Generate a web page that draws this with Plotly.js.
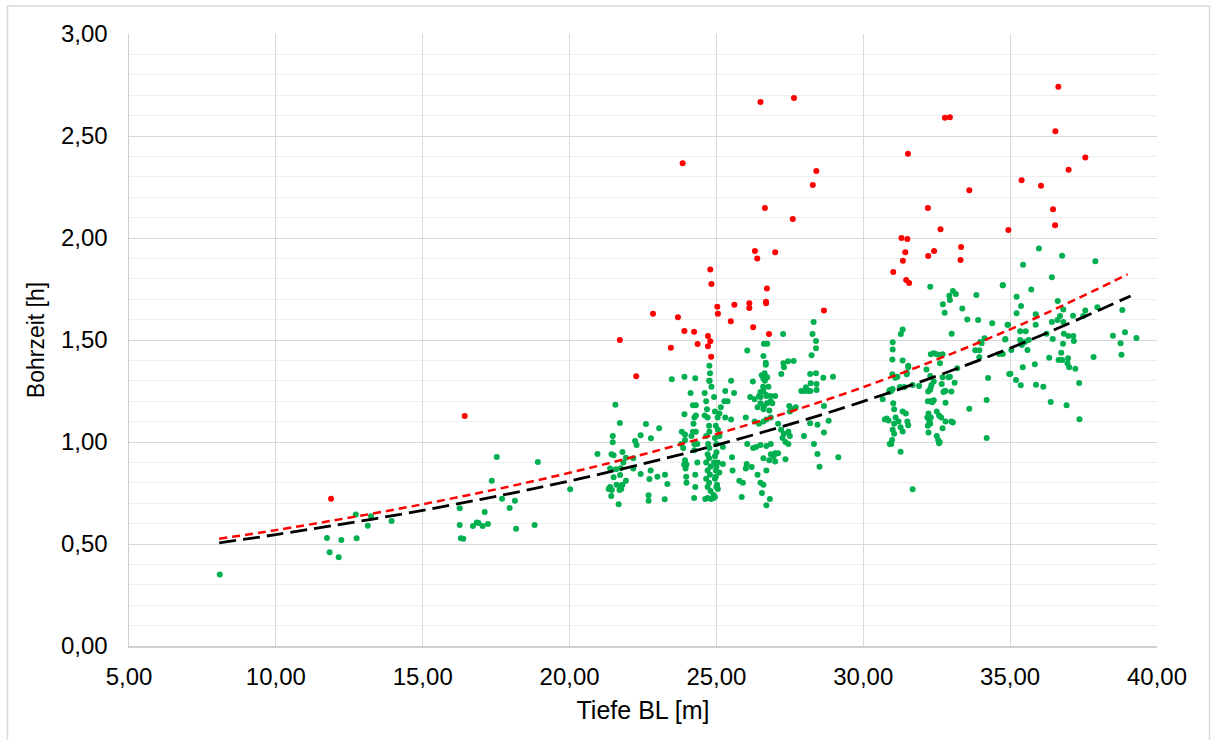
<!DOCTYPE html>
<html>
<head>
<meta charset="utf-8">
<script src="https://cdn.plot.ly/plotly-3.0.1.min.js"></script>
<style>html,body{margin:0;padding:0;background:#fff;}#chart{width:1214px;height:740px;}</style>
</head>
<body>
<div id="chart"></div>
<script>
// Green points (Bohrzeit within range)
const greenX = [
 8.09,11.74,11.83,12.14,12.23,12.75,12.72,13.24,13.13,13.94,16.26,16.26,16.30,16.38,16.71,16.84,16.90,17.04,17.22,17.11,17.35,17.52,17.70,17.96,18.14,18.18,18.81,18.92,20.02,
 21.56,21.71,20.95,21.47,21.47,21.43,21.50,21.38,21.50,21.58,21.72,21.80,21.92,21.83,21.74,21.92,21.60,21.72,21.80,21.38,21.33,21.44,21.70,21.76,21.42,21.67,22.17,22.17,22.23,22.28,22.42,22.60,22.77,23.05,22.42,22.72,22.76,22.69,22.69,22.99,23.25,23.33,23.24,
 24.24,24.70,24.90,24.76,24.78,24.75,24.77,24.83,23.48,23.91,24.28,
 24.12,24.20,24.30,24.30,24.25,24.22,24.20,24.30,24.15,24.25,24.35,24.25,24.35,24.28,24.28,
 24.60,24.65,24.68,24.60,24.70,24.75,24.76,24.65,24.72,24.76,24.70,24.75,24.65,24.80,24.70,24.78,24.65,24.75,24.70,24.80,24.62,24.82,
 24.92,24.95,24.98,24.95,25.00,24.92,24.98,24.95,25.00,24.90,
 23.91,23.82,23.93,23.93,23.80,23.87,23.93,23.90,23.98,23.95,23.97,23.98,
 25.27,25.38,25.10,25.30,25.50,25.04,25.22,25.22,25.53,25.55,25.78,25.86,25.90,26.00,26.03,26.20,26.05,25.05,25.10,25.00,24.95,25.05,25.00,25.10,24.98,25.02,24.95,25.05,25.30,25.50,25.15,25.60,
 26.05,26.24,26.54,26.64,26.73,26.59,26.77,26.60,26.70,26.62,26.73,26.60,26.68,26.68,26.60,26.65,
 26.50,26.45,26.15,26.30,26.50,26.70,26.85,26.85,26.72,26.62,26.50,26.40,26.60,26.80,27.00,26.90,
 26.00,26.30,26.45,26.60,26.70,26.85,27.10,27.48,27.50,27.60,27.70,
 27.20,27.30,27.25,27.35,27.45,27.50,27.45,26.85,26.70,26.50,26.35,26.25,
 26.85,27.00,27.10,26.95,26.80,27.00,27.35,26.60,26.70,26.60,26.82,26.70,26.50,26.40,26.55,
 27.27,28.31,28.27,28.39,28.39,28.24,27.28,27.30,27.44,27.63,27.21,28.19,28.39,28.64,28.97,28.21,28.05,27.89,28.14,28.41,28.41,28.00,28.20,28.66,28.82,28.19,28.44,28.66,27.98,28.32,28.44,28.51,29.15,
 32.28,34.75,33.05,33.15,32.93,32.95,33.85,32.71,32.77,33.37,33.54,33.91,34.39,34.93,31.34,31.28,33.01,31.00,31.00,30.99,30.99,31.34,31.53,31.53,31.48,31.48,31.09,31.16,
 32.30,32.40,32.50,32.60,32.70,32.61,32.15,32.28,32.40,32.32,32.29,32.27,32.21,31.68,31.90,31.25,31.40,30.88,30.95,31.00,30.90,30.66,
 31.02,31.05,31.10,31.05,31.00,31.05,30.98,30.95,30.90,30.73,30.80,30.86,31.20,31.34,31.45,31.50,31.27,31.34,31.53,31.27,31.68,
 32.20,32.30,32.35,32.40,32.70,32.90,32.95,32.77,32.80,32.73,33.00,32.80,32.67,33.11,
 32.20,32.25,32.30,32.22,32.18,32.28,32.50,32.58,32.65,32.80,33.00,33.05,32.70,32.22,32.50,32.55,32.60,32.58,
 33.61,34.20,34.20,34.25,33.98,33.81,33.95,33.95,34.13,34.03,34.63,34.83,34.97,33.20,
 35.98,36.77,35.44,37.90,36.42,35.72,34.75,35.22,35.37,36.62,36.81,37.97,38.82,35.22,35.87,37.56,37.49,37.14,36.70,36.61,36.42,36.81,34.91,35.87,35.34,35.53,36.24,36.83,36.98,37.15,37.17,34.84,35.34,35.50,35.63,36.45,36.80,38.50,38.91,39.30,38.76,38.79,35.40,35.04,35.59,36.74,36.33,36.65,36.77,36.97,36.95,37.01,37.22,37.84,35.84,35.43,35.01,35.20,35.36,35.88,36.13,37.35,36.38,36.92,37.36,34.75
];
const greenY = [
 0.35,0.53,0.46,0.435,0.52,0.528,0.644,0.636,0.59,0.613,0.675,0.593,0.528,0.526,0.588,0.605,0.603,0.588,0.598,0.657,0.81,0.926,0.722,0.676,0.712,0.575,0.593,0.902,0.768,
 1.183,1.093,0.941,1.03,0.999,0.94,0.935,0.87,0.827,0.866,0.838,0.951,0.923,0.899,0.871,0.81,0.79,0.785,0.79,0.78,0.77,0.765,0.765,0.77,0.735,0.695,0.92,0.87,1.005,0.985,1.033,1.088,1.018,1.067,0.843,0.819,0.86,0.739,0.712,0.83,0.84,0.794,0.719,
 0.725,0.725,0.725,1.374,1.337,1.30,1.30,1.271,1.307,1.32,1.312,
 1.24,1.18,1.18,1.13,1.12,1.09,1.05,1.05,1.03,0.99,0.99,0.96,0.90,0.84,0.78,
 1.24,1.20,1.16,1.13,1.12,1.08,1.05,1.03,0.99,0.97,0.94,0.92,0.90,0.88,0.86,0.84,0.82,0.80,0.78,0.76,0.72,0.72,
 1.22,1.15,1.08,1.02,0.95,0.90,0.86,0.82,0.78,0.74,
 1.136,1.05,1.037,1.01,0.99,0.97,0.91,0.89,0.89,0.87,0.83,0.80,
 1.20,1.20,1.14,1.12,1.11,1.12,0.976,0.892,0.925,0.86,0.81,0.73,0.80,0.87,0.892,0.878,0.99,1.06,1.03,0.99,0.93,0.90,0.88,0.85,0.83,0.79,0.73,0.77,1.25,1.30,1.17,1.24,
 1.448,1.297,1.327,1.337,1.317,1.271,1.271,1.25,1.23,1.482,1.482,1.422,1.389,1.379,1.31,1.30,
 1.245,1.225,1.22,1.21,1.22,1.225,1.225,1.20,1.19,1.175,1.19,1.17,1.16,1.155,1.225,1.19,
 1.12,1.10,1.09,1.10,1.11,1.12,1.09,1.176,1.15,1.16,1.17,
 1.06,1.04,1.02,1.00,0.99,1.03,1.05,0.99,0.98,0.985,0.975,0.97,
 0.94,0.945,0.945,0.93,0.91,0.905,0.915,0.92,0.86,0.79,0.72,0.69,0.80,0.84,0.75,
 1.529,1.588,1.529,1.495,1.46,1.425,1.386,1.366,1.396,1.397,1.333,1.333,1.337,1.315,1.32,1.288,1.268,1.25,1.25,1.284,1.255,1.25,1.25,1.176,1.104,1.092,1.085,1.046,1.03,0.99,0.941,0.879,0.925,
 1.761,1.768,1.74,1.725,1.717,1.696,1.72,1.675,1.634,1.654,1.60,1.598,1.582,1.575,1.552,1.529,1.531,1.489,1.454,1.405,1.332,1.399,1.374,1.366,1.34,1.332,1.315,1.32,
 1.43,1.435,1.43,1.425,1.43,1.386,1.356,1.324,1.296,1.28,1.265,1.255,1.248,1.28,1.275,1.27,1.27,1.245,1.25,1.26,1.255,1.209,
 1.19,1.16,1.12,1.09,1.06,1.04,1.01,0.99,0.99,1.11,1.115,1.105,1.10,1.15,1.14,1.10,1.072,1.052,1.082,0.952,0.768,
 1.20,1.20,1.195,1.205,1.318,1.318,1.32,1.25,1.25,1.245,1.247,1.193,1.284,1.291,
 1.08,1.10,1.12,1.14,1.12,1.09,1.15,1.13,1.12,1.10,1.10,1.095,1.067,1.046,1.03,1.01,1.00,0.994,
 1.163,1.206,1.02,1.314,1.49,1.45,1.45,1.415,1.508,1.484,1.431,1.503,1.333,1.361,
 1.949,1.913,1.869,1.886,1.807,1.748,1.768,1.712,1.667,1.691,1.65,1.66,1.647,1.631,1.626,1.644,1.618,1.619,1.618,1.598,1.588,1.588,1.575,1.575,1.543,1.543,1.531,1.531,1.52,1.52,1.495,1.505,1.50,1.49,1.50,1.505,1.482,1.521,1.538,1.51,1.484,1.428,1.475,1.451,1.451,1.438,1.413,1.402,1.402,1.41,1.386,1.366,1.359,1.417,1.381,1.366,1.335,1.304,1.278,1.281,1.271,1.289,1.196,1.18,1.111,1.431
];
// Red points (outliers)
const redX = [11.88,16.43,23.85,26.50,27.64,28.40,28.28,26.65,27.60,26.31,27.00,26.39,24.79,24.83,26.72,25.03,25.05,22.84,23.69,23.91,24.24,24.71,24.79,24.71,24.36,23.45,21.71,24.82,22.27,25.61,26.12,26.12,26.69,26.69,28.66,25.49,26.25,26.79,
 36.64,32.78,32.95,36.54,31.52,37.56,36.99,35.39,36.05,33.61,32.20,36.46,32.63,34.94,36.53,31.30,31.50,31.43,31.35,32.21,32.41,33.33,33.31,31.02,31.46,31.56];
const redY = [0.722,1.127,2.366,2.667,2.686,2.328,2.26,2.147,2.093,1.936,1.93,1.90,1.846,1.774,1.752,1.663,1.629,1.629,1.611,1.544,1.541,1.52,1.494,1.469,1.48,1.462,1.50,1.418,1.322,1.673,1.68,1.657,1.688,1.68,1.644,1.592,1.562,1.529,
 2.742,2.59,2.592,2.523,2.413,2.394,2.335,2.283,2.256,2.234,2.147,2.141,2.043,2.039,2.062,2.0,1.995,1.93,1.889,1.912,1.936,1.956,1.892,1.833,1.794,1.779];
// Trend lines
const trendX = [8.07,10,15,20,25,30,35,39.1];
const trendBlackY = [0.506,0.546,0.665,0.809,0.985,1.199,1.460,1.716];
const trendRedX = [8.07,10,15,20,25,30,35,39.0];
const trendRedY = [0.526,0.568,0.695,0.849,1.039,1.269,1.552,1.822];

const xTicks = [5,10,15,20,25,30,35,40];
const xTickText = ['5,00','10,00','15,00','20,00','25,00','30,00','35,00','40,00'];
const yTicks = [0,0.5,1,1.5,2,2.5,3];
const yTickText = ['0,00','0,50','1,00','1,50','2,00','2,50','3,00'];

const font = "'Liberation Sans', Arial, sans-serif";

const traces = [
 {x: greenX, y: greenY, type:'scatter', mode:'markers', marker:{color:'#00B050', size:6}, showlegend:false},
 {x: redX, y: redY, type:'scatter', mode:'markers', marker:{color:'#FF0000', size:6}, showlegend:false},
 {x: trendRedX, y: trendRedY, type:'scatter', mode:'lines', line:{color:'#FF0000', width:2.5, dash:'8px,5px', shape:'spline'}, showlegend:false},
 {x: trendX, y: trendBlackY, type:'scatter', mode:'lines', line:{color:'#000000', width:2.8, dash:'17px,7px', shape:'spline'}, showlegend:false}
];

const layout = {
 width:1214, height:740,
 margin:{l:129, r:57, t:34, b:94},
 paper_bgcolor:'#ffffff', plot_bgcolor:'#ffffff',
 font:{family:font, size:22, color:'#000000'},
 showlegend:false,
 xaxis:{
  range:[5,40], tickvals:xTicks, ticktext:xTickText,
  showgrid:true, gridcolor:'#d9d9d9', gridwidth:1,
  zeroline:false, showline:true, linecolor:'#d0d0d0', linewidth:1.5,
  ticks:'', ticklabelstandoff:9, tickfont:{family:font, size:24, color:'#000'},
  title:{text:'Tiefe BL [m]', font:{family:font, size:25, color:'#000'}, standoff:12},
  automargin:false, fixedrange:true
 },
 yaxis:{
  range:[0,3], tickvals:yTicks, ticktext:yTickText,
  showgrid:true, gridcolor:'#d9d9d9', gridwidth:1,
  minor:{dtick:0.1, showgrid:true, gridcolor:'#eeeeee', gridwidth:1},
  zeroline:false, showline:true, linecolor:'#d0d0d0', linewidth:1.5,
  ticks:'', ticklabelstandoff:15, tickfont:{family:font, size:24, color:'#000'},
  title:{text:'Bohrzeit [h]', font:{family:font, size:23, color:'#000'}, standoff:10},
  automargin:false, fixedrange:true
 },
 shapes:[
  {type:'rect', xref:'paper', yref:'paper', x0:-0.1182, x1:1.0511, y0:-0.17, y1:1.0458, line:{color:'#d9d9d9', width:1.5}, fillcolor:'rgba(0,0,0,0)', layer:'below'}
 ]
};

Plotly.newPlot('chart', traces, layout, {displayModeBar:false, staticPlot:true});
</script>
</body>
</html>
